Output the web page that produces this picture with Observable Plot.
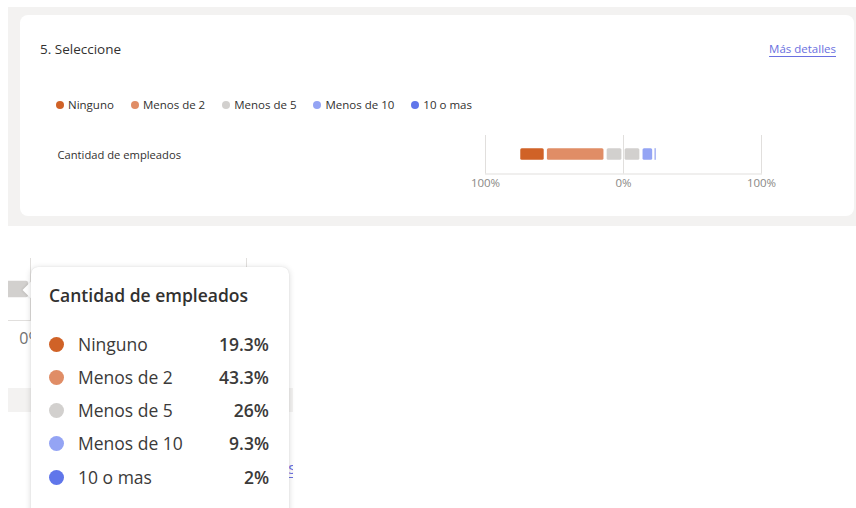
<!DOCTYPE html>
<html>
<head>
<meta charset="utf-8">
<script src="https://cdn.jsdelivr.net/npm/d3@7"></script>
<script src="https://cdn.jsdelivr.net/npm/@observablehq/plot@0.6"></script>
<style>
  html, body { margin: 0; padding: 0; background: #ffffff; }
  body { width: 856px; height: 508px; overflow: hidden; position: relative;
         font-family: "Open Sans", "Noto Sans", sans-serif; color: #323130; }
  .abs { position: absolute; }
  svg.abs { max-width: none !important; }
  #bg { left: 8px; top: 7px; width: 848px; height: 219px; background: #f3f2f1; }
  #card { left: 20px; top: 15px; width: 834px; height: 201px; background: #fff; border-radius: 8px; }
  #title { left: 40px; top: 39px; font-size: 13.5px; line-height: 20px; white-space: nowrap; }
  #link { right: 20px; top: 40px; font-size: 11.5px; line-height: 17px; color: #6a70e0;
          text-decoration: underline; text-underline-offset: 3px; white-space: nowrap; }
  #legend { left: 56px; top: 96px; display: flex; font-size: 11.5px; line-height: 17px; white-space: nowrap; }
  #legend .item { display: flex; align-items: center; margin-right: 17px; }
  #legend .dot { width: 8px; height: 8px; border-radius: 50%; margin-right: 4px; }
  #topchart { left: 40px; top: 130px; }
  #frag { left: 8px; top: 258px; width: 285px; height: 250px; overflow: hidden; background: #fff; }
  #fragband { left: 0; top: 130px; width: 285px; height: 24px; background: #f3f2f1; }
  #fragchart { left: -194px; top: 0; }
  #fraglink { right: -3px; top: 199px; font-size: 16px; line-height: 22px; color: #6a70e0;
              text-decoration: underline; text-underline-offset: 3px; white-space: nowrap; }
  #tip { left: 31px; top: 267px; width: 258px; height: 260px; background: #fff; border-radius: 7px;
         box-shadow: 0 1px 6px rgba(0,0,0,0.16), 0 0 1px rgba(0,0,0,0.12); }
  #arrow { left: 25px; top: 284px; width: 12px; height: 12px; background: #fff; transform: rotate(45deg);
           box-shadow: -1px 1px 2px rgba(0,0,0,0.08); }
  #tiptitle { left: 18px; top: 16px; font-size: 17.5px; font-weight: 600; line-height: 24px; color: #323130; white-space: nowrap; }
  .row { position: absolute; left: 18px; width: 220px; height: 24px; display: flex; align-items: center; font-size: 17.5px; }
  .row .dot { width: 15px; height: 15px; border-radius: 50%; margin-right: 14px; flex: none; }
  .row .lab { flex: 1; color: #3b3a39; white-space: nowrap; }
  .row .val { font-weight: 600; color: #3b3a39; }
</style>
</head>
<body>
<script>
// ---- data ----
const question = "5. Seleccione";
const linkText = "Más detalles";
const rowLabel = "Cantidad de empleados";
const categories = ["Ninguno", "Menos de 2", "Menos de 5", "Menos de 10", "10 o mas"];
const values = [19.3, 43.3, 26, 9.3, 2];
const colors = ["#d06227", "#e08d66", "#d2d0ce", "#94a4f4", "#6076ea"];
const xTicks = [-100, 0, 100];
const valueLabels = ["19.3%", "43.3%", "26%", "9.3%", "2%"];

// diverging segments: first two negative, middle split, last two positive
const segments = [];
let start = -(values[0] + values[1] + values[2] / 2);
categories.forEach((c, i) => {
  const v = values[i];
  if (i === 2) {
    segments.push({row: rowLabel, cat: c, x1: start, x2: start + v / 2});
    segments.push({row: rowLabel, cat: c, x1: start + v / 2, x2: start + v});
  } else {
    segments.push({row: rowLabel, cat: c, x1: start, x2: start + v});
  }
  start += v;
});
const wide = segments.filter(d => d.x2 - d.x1 > 3);
const thin = segments.filter(d => d.x2 - d.x1 <= 3);
const pct = d => Math.abs(d) + "%";
const FONT = '"Open Sans", "Noto Sans", sans-serif';

function el(tag, cls, id, parent) {
  const e = document.createElement(tag);
  if (cls) e.className = cls;
  if (id) e.id = id;
  (parent || document.body).appendChild(e);
  return e;
}

el("div", "abs", "bg");
el("div", "abs", "card");
el("div", "abs", "title").textContent = question;
el("div", "abs", "link").textContent = linkText;
const legend = el("div", "abs", "legend");
categories.forEach((c, i) => {
  const it = el("div", "item", null, legend);
  el("span", "dot", null, it).style.background = colors[i];
  el("span", null, null, it).textContent = c;
});

// ---- main chart ----
const mainChart = Plot.plot({
  width: 760, height: 65,
  marginLeft: 445, marginRight: 39, marginTop: 5, marginBottom: 21.5,
  x: {domain: [-100, 100], axis: null},
  y: {domain: [rowLabel], axis: null, padding: 0},
  color: {domain: categories, range: colors},
  style: {fontFamily: FONT, fontSize: "11.5px", background: "transparent", overflow: "visible"},
  marks: [
    Plot.gridX(xTicks, {stroke: "#e1dfdd", strokeOpacity: 1}),
    Plot.frame({anchor: "bottom", stroke: "#e1dfdd"}),
    Plot.barX(wide, {x1: "x1", x2: "x2", y: "row", fill: "cat", insetLeft: 1.6, insetRight: 1.6, insetTop: 13.2, insetBottom: 13.2, rx: 1.5}),
    Plot.barX(thin, {x1: "x1", x2: "x2", y: "row", fill: "cat", insetLeft: 0.7, insetRight: 0.7, insetTop: 13.2, insetBottom: 13.2, fillOpacity: 0.6}),
    Plot.axisX(xTicks, {tickSize: 0, tickPadding: 5, tickFormat: pct, fill: "#8a8886"}),
    Plot.text([rowLabel], {y: d => d, text: d => d, frameAnchor: "left", textAnchor: "start", dx: -428, dy: 1, fill: "#323130", fontSize: 11.2})
  ]
});
mainChart.classList.add("abs");
mainChart.id = "topchart";
document.body.appendChild(mainChart);

// ---- zoomed fragment behind the tooltip ----
const frag = el("div", "abs", "frag");
el("div", "abs", "fragband", frag);
el("div", "abs", "fraglink", frag).textContent = linkText;
const fragChart = Plot.plot({
  width: 432, height: 95,
  marginLeft: 0, marginRight: 0, marginTop: 0, marginBottom: 33,
  x: {domain: [-100, 100], axis: null},
  y: {domain: [rowLabel], axis: null, padding: 0},
  color: {domain: categories, range: colors},
  style: {fontFamily: FONT, fontSize: "16px", background: "transparent", overflow: "visible"},
  marks: [
    Plot.gridX(xTicks, {stroke: "#e1dfdd", strokeOpacity: 1}),
    Plot.frame({anchor: "bottom", stroke: "#e1dfdd"}),
    Plot.barX(wide, {x1: "x1", x2: "x2", y: "row", fill: "cat", insetLeft: 2, insetRight: 2, insetTop: 22.7, insetBottom: 22.7, rx: 2}),
    Plot.axisX(xTicks.filter(t => t === 0), {tickSize: 0, tickPadding: 12, tickFormat: pct, fill: "#707070"})
  ]
});
fragChart.classList.add("abs");
fragChart.id = "fragchart";
frag.appendChild(fragChart);

// ---- tooltip ----
el("div", "abs", "arrow");
const tip = el("div", "abs", "tip");
el("div", "abs", "tiptitle", tip).textContent = rowLabel;
const rowCenters = [77, 110, 143, 176, 210];
categories.forEach((c, i) => {
  const r = el("div", "row", null, tip);
  r.style.top = (rowCenters[i] - 12) + "px";
  el("span", "dot", null, r).style.background = colors[i];
  el("span", "lab", null, r).textContent = c;
  el("span", "val", null, r).textContent = valueLabels[i];
});
</script>
</body>
</html>
